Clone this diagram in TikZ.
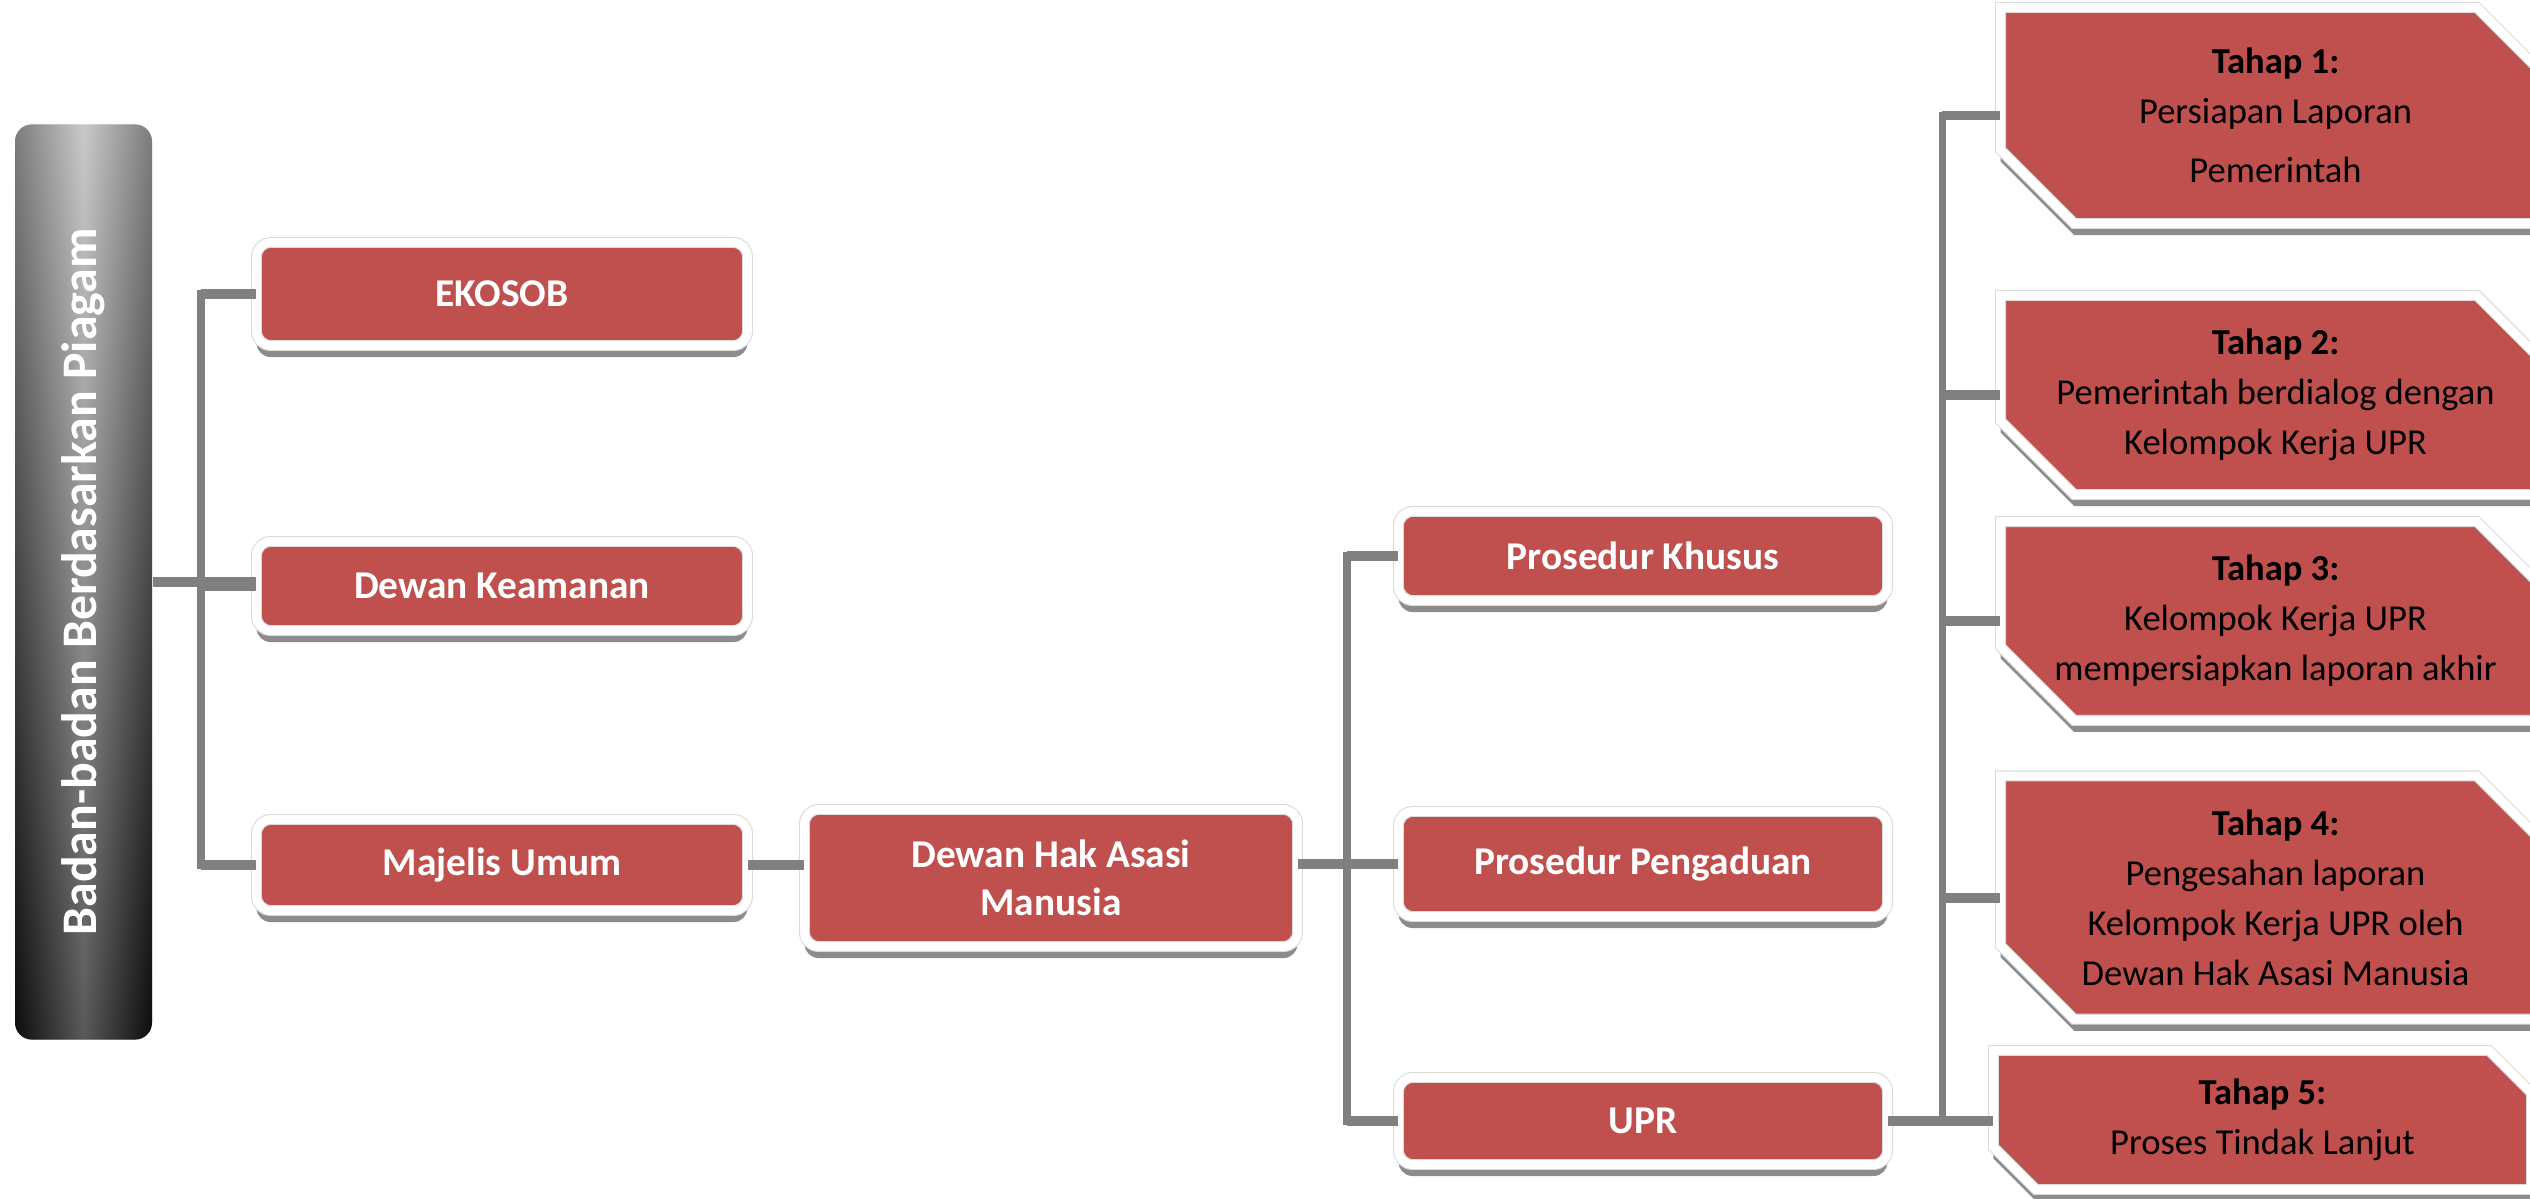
\documentclass[tikz,border=0pt]{standalone}
\usepackage{fontspec}
\setmainfont{Carlito}
\usetikzlibrary{shapes.misc,shadows}
\definecolor{merah}{HTML}{C0504D}
\definecolor{abu}{HTML}{808080}
\begin{document}
\begin{tikzpicture}
[kotak/.style={rectangle, rounded corners=5pt, fill=merah, draw=black!14, double=white, double distance=3.1pt, line width=0.4pt, inner sep=0pt, text=white, align=center, font=\fontsize{14}{17}\selectfont\bfseries, drop shadow={shadow xshift=0pt, shadow yshift=-0.144cm, fill=black!45, opacity=1}},
tahap/.style={chamfered rectangle, chamfered rectangle corners={north east,south west}, chamfered rectangle xsep=0.5cm, chamfered rectangle ysep=0.42cm, fill=merah, draw=black!14, double=white, double distance=3.1pt, line width=0.4pt, inner sep=0pt, text=black, align=center, font=\fontsize{13}{17.8}\selectfont, drop shadow={shadow xshift=0pt, shadow yshift=-0.144cm, fill=black!45, opacity=1}},
garis/.style={draw=abu, line width=3.5pt},
batang/.style={draw=abu, line width=2.5pt, line cap=rect}]
\useasboundingbox (0,0) rectangle (31.625,-14.9875);
\node [minimum width=1.7125cm, minimum height=11.44cm, inner sep=0pt, rounded corners=6pt, top color=black!30, bottom color=black!93, path picture={\shade[left color=black, right color=black, middle color=white, opacity=0.3] (path picture bounding box.south west) rectangle (path picture bounding box.north east);}] (judul) at (1.044,-7.275) {};
\node [rotate=90, inner sep=0pt, text=white, font=\fontsize{17.7}{20}\selectfont\bfseries] (teksjudul) at (judul.center) {Badan-badan Berdasarkan Piagam};
\node [kotak, minimum width=6.1375cm, minimum height=1.2875cm] (ekosob) at (6.275,-3.675) {EKOSOB};
\node [kotak, minimum width=6.1375cm, minimum height=1.1125cm] (keamanan) at (6.275,-7.325) {Dewan Keamanan};
\node [kotak, minimum width=6.1375cm, minimum height=1.1375cm] (majelis) at (6.275,-10.8125) {Majelis Umum};
\node [kotak, minimum width=6.1625cm, minimum height=1.7125cm] (dham) at (13.1375,-10.975) {Dewan Hak Asasi\\Manusia};
\node [kotak, minimum width=6.1125cm, minimum height=1.1125cm] (khusus) at (20.5375,-6.95) {Prosedur Khusus};
\node [kotak, minimum width=6.1125cm, minimum height=1.3125cm] (pengaduan) at (20.5375,-10.8) {Prosedur Pengaduan};
\node [kotak, minimum width=6.1125cm, minimum height=1.0875cm] (upr) at (20.5375,-14.0125) {UPR};
\node [tahap, minimum width=6.875cm, minimum height=2.7cm] (t1) at (28.444,-1.444) {\textbf{Tahap 1:}\\Persiapan Laporan\\[3pt]Pemerintah};
\node [tahap, minimum width=6.875cm, minimum height=2.3125cm] (t2) at (28.444,-4.9375) {\textbf{Tahap 2:}\\Pemerintah berdialog dengan\\Kelompok Kerja UPR};
\node [tahap, minimum width=6.875cm, minimum height=2.2125cm] (t3) at (28.444,-7.7625) {\textbf{Tahap 3:}\\Kelompok Kerja UPR\\mempersiapkan laporan akhir};
\node [tahap, minimum width=6.875cm, minimum height=2.95cm] (t4) at (28.444,-11.22) {\textbf{Tahap 4:}\\Pengesahan laporan\\Kelompok Kerja UPR oleh\\Dewan Hak Asasi Manusia};
\node [tahap, chamfered rectangle xsep=0.28cm, chamfered rectangle ysep=0.25cm, minimum width=6.725cm, minimum height=1.7375cm] (t5) at (28.281,-14.0) {\textbf{Tahap 5:}\\Proses Tindak Lanjut};
\coordinate (kiri) at (2.5125,0);
\coordinate (tengah) at (16.8375,0);
\coordinate (kanan) at (24.28,0);
\draw [garis] (judul.east) -- (judul.east -| keamanan.west);
\draw [batang] (kiri |- ekosob.west) -- (kiri |- majelis.west);
\foreach \n in {ekosob,keamanan,majelis}
  \draw [garis] (kiri |- \n.west) -- (\n.west);
\draw [garis] (majelis.east) -- (majelis.east -| dham.west);
\draw [garis] (dham.east |- pengaduan.west) -- (pengaduan.west);
\draw [batang] (tengah |- khusus.west) -- (tengah |- upr.west);
\foreach \n in {khusus,upr}
  \draw [garis] (tengah |- \n.west) -- (\n.west);
\draw [garis] (upr.east) -- (upr.east -| t5.west);
\draw [batang] (kanan |- t1.west) -- (kanan |- upr.east);
\foreach \n in {t1,t2,t3,t4}
  \draw [garis] (kanan |- \n.west) -- (\n.west);
\end{tikzpicture}
\end{document}
